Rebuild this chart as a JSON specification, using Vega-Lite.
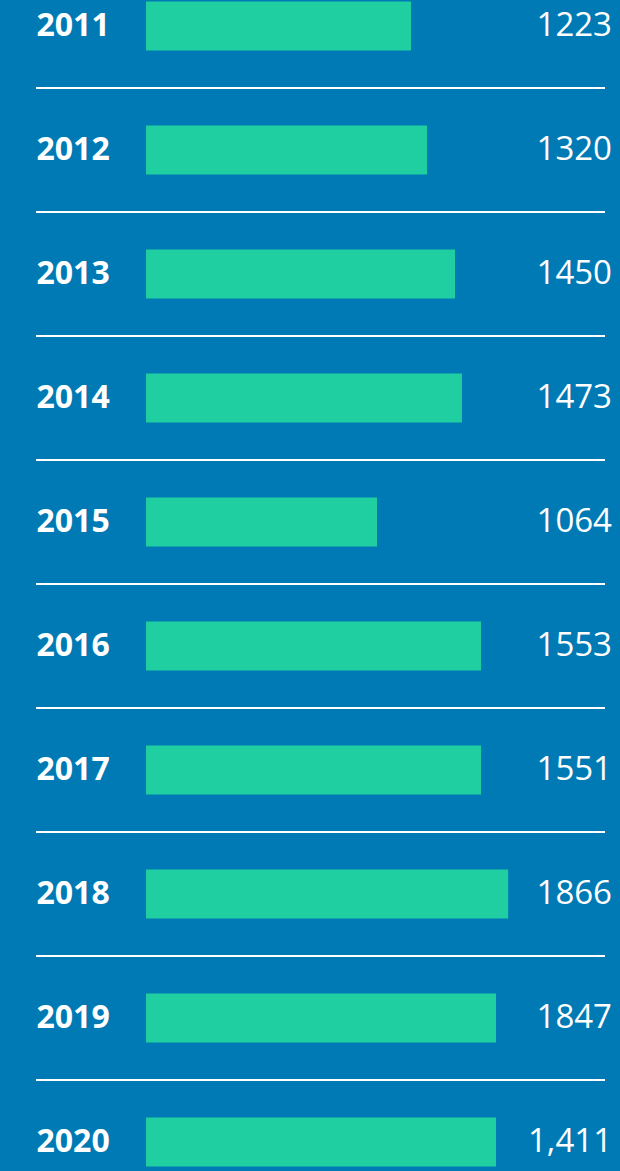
{
  "$schema": "https://vega.github.io/schema/vega-lite/v6.json",
  "autosize": {"type": "none"},
  "background": "#007AB5",
  "padding": {"left": 36, "top": -36, "right": 15, "bottom": 0},
  "width": 569,
  "height": 1240,
  "data": {"values": [
    {"year": "2011", "bar": 1223, "label": "1223"},
    {"year": "2012", "bar": 1297, "label": "1320"},
    {"year": "2013", "bar": 1426, "label": "1450"},
    {"year": "2014", "bar": 1458, "label": "1473"},
    {"year": "2015", "bar": 1066, "label": "1064"},
    {"year": "2016", "bar": 1546, "label": "1553"},
    {"year": "2017", "bar": 1546, "label": "1551"},
    {"year": "2018", "bar": 1671, "label": "1866"},
    {"year": "2019", "bar": 1615, "label": "1847"},
    {"year": "2020", "bar": 1615, "label": "1,411"}
  ]},
  "encoding": {
    "y": {
      "field": "year", "type": "ordinal",
      "scale": {"paddingInner": 0, "paddingOuter": 0},
      "axis": {
        "title": null, "ticks": false, "tickSize": 0, "domain": false, "grid": false,
        "labelAlign": "left", "labelPadding": 0, "labelBaseline": "middle",
        "labelFont": "Open Sans", "labelFontWeight": "bold", "labelFontSize": 32,
        "labelColor": "#FFFFFF"
      }
    }
  },
  "layer": [
    {
      "mark": {"type": "bar", "color": "#1FCEA1", "height": 49},
      "encoding": {
        "x": {"field": "bar", "type": "quantitative",
              "scale": {"domain": [0, 2118], "range": [110, 569], "nice": false, "zero": false},
              "axis": null}
      }
    },
    {
      "transform": [{"filter": "datum.year != '2011'"}],
      "mark": {"type": "rule", "color": "#FFFFFF", "strokeWidth": 2},
      "encoding": {
        "y": {"field": "year", "type": "ordinal", "bandPosition": 0}
      }
    },
    {
      "mark": {"type": "text", "align": "right", "baseline": "middle", "dx": 7,
               "font": "Open Sans", "fontSize": 33, "color": "#FFFFFF"},
      "encoding": {
        "x": {"value": "width"},
        "text": {"field": "label"}
      }
    }
  ],
  "config": {"view": {"stroke": null}}
}
